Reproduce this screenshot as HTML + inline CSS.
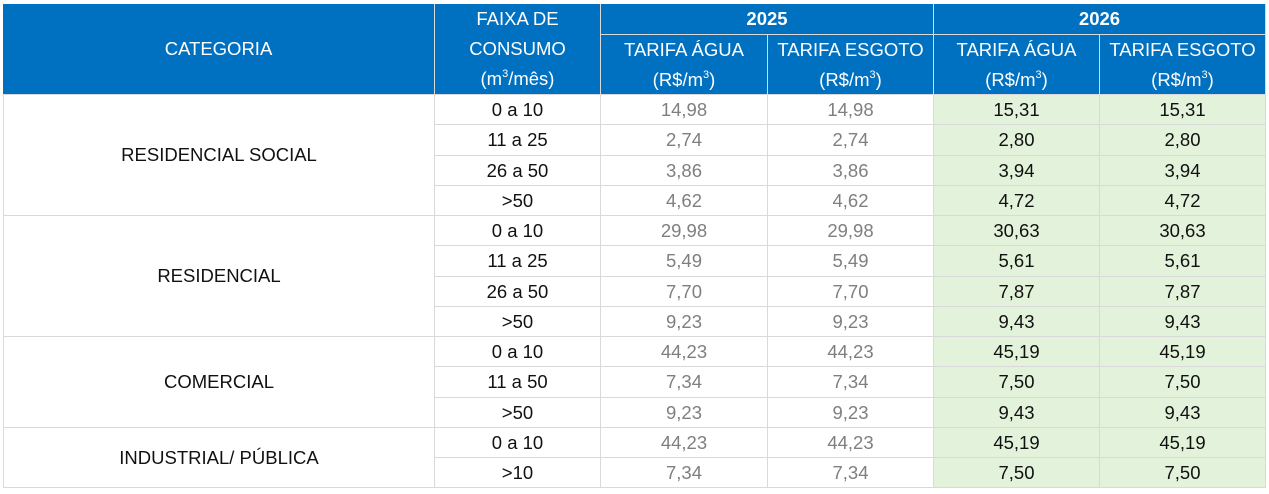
<!DOCTYPE html>
<html><head><meta charset="utf-8">
<style>
html,body{margin:0;padding:0;background:#fff;width:1269px;height:494px;overflow:hidden}
#t{position:relative;width:1269px;height:494px;font-family:"Liberation Sans",sans-serif;font-size:18.5px}
.c{position:absolute;box-sizing:border-box;display:flex;align-items:center;justify-content:center;text-align:center}
.h{background:#0070C0;color:#fff;border-right:1px solid #d9d9d9;border-bottom:1px solid #d9d9d9;line-height:30px;flex-direction:column}
.d{border-right:1px solid #d9d9d9;border-bottom:1px solid #d9d9d9;color:#111}
.g{color:#7f7f7f}
.n{background:#E3F3DB;color:#111}
sup{font-size:11px;line-height:0;vertical-align:8px}
</style></head><body>
<div id="t">
<div class="c h" style="left:3px;top:4px;width:432px;height:91px">CATEGORIA</div>
<div class="c h" style="left:435px;top:4px;width:166px;height:91px"><div>FAIXA DE</div><div>CONSUMO</div><div>(m<sup>3</sup>/mês)</div></div>
<div class="c h" style="left:601px;top:4px;width:333px;height:31px;font-weight:bold">2025</div>
<div class="c h" style="left:934px;top:4px;width:332px;height:31px;font-weight:bold">2026</div>
<div class="c h" style="left:601px;top:35px;width:167px;height:60px"><div>TARIFA ÁGUA</div><div>(R$/m<sup>3</sup>)</div></div>
<div class="c h" style="left:768px;top:35px;width:166px;height:60px"><div>TARIFA ESGOTO</div><div>(R$/m<sup>3</sup>)</div></div>
<div class="c h" style="left:934px;top:35px;width:166px;height:60px"><div>TARIFA ÁGUA</div><div>(R$/m<sup>3</sup>)</div></div>
<div class="c h" style="left:1100px;top:35px;width:166px;height:60px"><div>TARIFA ESGOTO</div><div>(R$/m<sup>3</sup>)</div></div>
</div>
<script>
const categories=["RESIDENCIAL SOCIAL","RESIDENCIAL","COMERCIAL","INDUSTRIAL/ PÚBLICA"];
const groupSizes=[4,4,3,2];
const faixas=["0 a 10","11 a 25","26 a 50",">50","0 a 10","11 a 25","26 a 50",">50","0 a 10","11 a 50",">50","0 a 10",">10"];
const agua2025=["14,98","2,74","3,86","4,62","29,98","5,49","7,70","9,23","44,23","7,34","9,23","44,23","7,34"];
const esgoto2025=["14,98","2,74","3,86","4,62","29,98","5,49","7,70","9,23","44,23","7,34","9,23","44,23","7,34"];
const agua2026=["15,31","2,80","3,94","4,72","30,63","5,61","7,87","9,43","45,19","7,50","9,43","45,19","7,50"];
const esgoto2026=["15,31","2,80","3,94","4,72","30,63","5,61","7,87","9,43","45,19","7,50","9,43","45,19","7,50"];
const t=document.getElementById('t');
const top0=95,rh=30.25;
function cell(x,y,w,h,txt,cls){const e=document.createElement('div');e.className='c d '+cls;e.style.left=x+'px';e.style.top=y+'px';e.style.width=w+'px';e.style.height=h+'px';e.textContent=txt;t.appendChild(e);return e;}
let r=0;
categories.forEach((c,i)=>{
  const y=Math.round(top0+r*rh);
  const y2=Math.round(top0+(r+groupSizes[i])*rh);
  const e=cell(3,y,432,y2-y,c,'');
  e.style.borderLeft='1px solid #d9d9d9';
  
  
  r+=groupSizes[i];
});
const xs=[435,601,768,934,1100],ws=[166,167,166,166,166];
faixas.forEach((f,i)=>{
  const y=Math.round(top0+i*rh);
  const y2=Math.round(top0+(i+1)*rh);
  const vals=[f,agua2025[i],esgoto2025[i],agua2026[i],esgoto2026[i]];
  const cls=['','g','g','n','n'];
  const names=['faixa','agua-2025','esgoto-2025','agua-2026','esgoto-2026'];
  vals.forEach((v,j)=>{
    const e=cell(xs[j],y,ws[j],y2-y,v,cls[j]);
    
    
  });
});
</script>
</body></html>
